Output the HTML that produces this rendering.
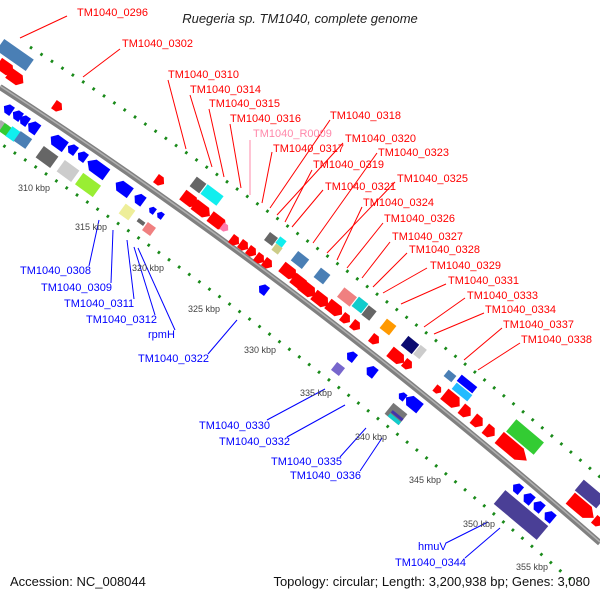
<!DOCTYPE html>
<html><head><meta charset="utf-8"><style>
html,body{margin:0;padding:0;background:#fff}
svg{display:block}
text{font-family:"Liberation Sans",sans-serif}
.r{fill:#f00;font-size:11px}
.b{fill:#00f;font-size:11px}
.k{fill:#444;font-size:9px}
</style></head><body>
<svg width="600" height="600" viewBox="0 0 600 600" xmlns="http://www.w3.org/2000/svg">
<defs>
<polygon id="ar" points="-9,-6 4,-6 9,0 4,6 -9,6"/>
<polygon id="as" points="-5,-5 1,-5 5,0 1,5 -5,5"/>
</defs>
<path d="M30,47 Q330,241 630,503" fill="none" stroke="#1a8a1a" stroke-width="3" stroke-dasharray="2.5 10"/>
<path d="M-28,125 Q272,319 572,581" fill="none" stroke="#1a8a1a" stroke-width="3" stroke-dasharray="2.5 10"/>
<path d="M0,87 Q300,281 600,543" fill="none" stroke="#808080" stroke-width="6"/>
<path d="M0,86 Q300,280 600,542" fill="none" stroke="#b0b0b0" stroke-width="1.5"/>

<g fill="#f00">
<use href="#ar" transform="translate(6,68) rotate(35)"/>
<use href="#ar" transform="translate(16,78) rotate(35)"/>
<use href="#as" transform="translate(58,107) rotate(35)"/>
<use href="#as" transform="translate(160,181) rotate(36)"/>
<use href="#ar" transform="translate(190,200) rotate(37)"/>
<use href="#ar" transform="translate(202,210) rotate(37) scale(1.1,1)"/>
<use href="#ar" transform="translate(218,222) rotate(37) scale(1.1,1)"/>
<use href="#as" transform="translate(235,241) rotate(37)"/>
<use href="#as" transform="translate(244,246) rotate(37)"/>
<use href="#as" transform="translate(252,252) rotate(37)"/>
<use href="#as" transform="translate(260,259) rotate(37)"/>
<use href="#as" transform="translate(268,264) rotate(37)"/>
<use href="#ar" transform="translate(289,272) rotate(38)"/>
<use href="#ar" transform="translate(300,283) rotate(38)"/>
<use href="#ar" transform="translate(308,290) rotate(38)"/>
<use href="#ar" transform="translate(321,300) rotate(38)"/>
<use href="#ar" transform="translate(335,309) rotate(38)"/>
<use href="#as" transform="translate(346,319) rotate(38)"/>
<use href="#as" transform="translate(356,326) rotate(38)"/>
<use href="#as" transform="translate(375,340) rotate(38)"/>
<use href="#ar" transform="translate(397,357) rotate(39)"/>
<use href="#as" transform="translate(408,365) rotate(39)"/>
<use href="#as" transform="translate(438,390) rotate(39) scale(0.8)"/>
<use href="#ar" transform="translate(452,400) rotate(39) scale(1.1,1.1)"/>
<use href="#as" transform="translate(466,412) rotate(39) scale(1.2)"/>
<use href="#as" transform="translate(478,422) rotate(39) scale(1.2)"/>
<use href="#as" transform="translate(490,432) rotate(39) scale(1.2)"/>
<use href="#ar" transform="translate(513,449) rotate(40) scale(2,1.2)"/>
<use href="#ar" transform="translate(582,508) rotate(40) scale(1.7,1.2)"/>
<use href="#as" transform="translate(598,522) rotate(40)"/>
</g>
<use href="#as" fill="#f7a" transform="translate(225,228) rotate(37) scale(0.8)"/>
<g transform="translate(15,55) rotate(35)"><rect x="-18" y="-7" width="36" height="14" fill="#4a7fb5"/></g>
<g transform="translate(198,185) rotate(37)"><rect x="-6" y="-6" width="12" height="12" fill="#666"/></g>
<g transform="translate(212,195) rotate(37)"><rect x="-10" y="-6" width="20" height="12" fill="#1ee"/></g>
<g transform="translate(271,239) rotate(37)"><rect x="-5" y="-5" width="10" height="10" fill="#666"/></g>
<g transform="translate(281,242) rotate(37)"><rect x="-4" y="-4" width="8" height="8" fill="#1ee"/></g>
<g transform="translate(277,249) rotate(37)"><rect x="-4" y="-4" width="8" height="8" fill="#cc8"/></g>
<g transform="translate(300,260) rotate(38)"><rect x="-7" y="-6" width="14" height="12" fill="#4a7fb5"/></g>
<g transform="translate(322,276) rotate(38)"><rect x="-6" y="-6" width="12" height="12" fill="#4a7fb5"/></g>
<g transform="translate(347,297) rotate(38)"><rect x="-8" y="-6" width="16" height="12" fill="#f08080"/></g>
<g transform="translate(360,305) rotate(38)"><rect x="-6" y="-6" width="12" height="12" fill="#1cc"/></g>
<g transform="translate(369,313) rotate(38)"><rect x="-5" y="-6" width="10" height="12" fill="#666"/></g>
<g transform="translate(388,327) rotate(38)"><rect x="-6" y="-6" width="12" height="12" fill="#f90"/></g>
<g transform="translate(410,345) rotate(39)"><rect x="-7" y="-6" width="14" height="12" fill="#0a0a70"/></g>
<g transform="translate(420,352) rotate(39)"><rect x="-4" y="-6" width="8" height="12" fill="#ccc"/></g>
<g transform="translate(450,376) rotate(39)"><rect x="-5" y="-4" width="10" height="8" fill="#4a7fb5"/></g>
<g transform="translate(467,384) rotate(39)"><rect x="-10" y="-4" width="20" height="8" fill="#00f"/></g>
<g transform="translate(462,392) rotate(39)"><rect x="-10" y="-4" width="20" height="8" fill="#2bf"/></g>
<g transform="translate(525,437) rotate(40)"><rect x="-18" y="-8" width="36" height="16" fill="#3c3"/></g>
<g transform="translate(590,494) rotate(40)"><rect x="-14" y="-7" width="28" height="14" fill="#4a3f96"/></g>

<g fill="#00f">
<use href="#as" transform="translate(8,109) rotate(215)"/>
<use href="#as" transform="translate(17,115) rotate(215)"/>
<use href="#as" transform="translate(24,120) rotate(215)"/>
<use href="#as" transform="translate(33,127) rotate(215) scale(1.2)"/>
<use href="#ar" transform="translate(58,142) rotate(216)"/>
<use href="#as" transform="translate(72,149) rotate(216)"/>
<use href="#as" transform="translate(82,156) rotate(216)"/>
<use href="#ar" transform="translate(97,168) rotate(216) scale(1.3,1.1)"/>
<use href="#ar" transform="translate(123,188) rotate(216)"/>
<use href="#as" transform="translate(139,199) rotate(216) scale(1.1)"/>
<use href="#as" transform="translate(152,210) rotate(216) scale(0.7)"/>
<use href="#as" transform="translate(160,215) rotate(216) scale(0.7)"/>
<use href="#as" transform="translate(263,289) rotate(217)"/>
<use href="#as" transform="translate(351,356) rotate(218)"/>
<use href="#as" transform="translate(371,371) rotate(218) scale(1.1)"/>
<use href="#as" transform="translate(402,396) rotate(219) scale(0.8)"/>
<use href="#ar" transform="translate(413,403) rotate(219)"/>
<use href="#as" transform="translate(517,488) rotate(220)"/>
<use href="#as" transform="translate(528,498) rotate(220) scale(1.1)"/>
<use href="#as" transform="translate(538,506) rotate(220) scale(1.1)"/>
<use href="#as" transform="translate(549,516) rotate(220) scale(1.1)"/>
</g>
<g transform="translate(2,127) rotate(35)"><rect x="-5" y="-5" width="10" height="10" fill="#aaa"/></g>
<g transform="translate(6,130) rotate(35)"><rect x="-5" y="-5" width="10" height="10" fill="#3c3"/></g>
<g transform="translate(13,134) rotate(35)"><rect x="-5" y="-6" width="10" height="12" fill="#1ee"/></g>
<g transform="translate(23,140) rotate(35)"><rect x="-7" y="-6" width="14" height="12" fill="#4a7fb5"/></g>
<g transform="translate(47,157) rotate(36)"><rect x="-9" y="-7" width="18" height="14" fill="#666"/></g>
<g transform="translate(68,171) rotate(36)"><rect x="-9" y="-7" width="18" height="14" fill="#ccc"/></g>
<g transform="translate(88,185) rotate(36)"><rect x="-11" y="-7" width="22" height="14" fill="#9e3"/></g>
<g transform="translate(127,212) rotate(36)"><rect x="-6" y="-6" width="12" height="12" fill="#ee9"/></g>
<g transform="translate(141,222) rotate(36)"><rect x="-4" y="-2" width="8" height="4" fill="#666"/></g>
<g transform="translate(149,229) rotate(36)"><rect x="-5" y="-5" width="10" height="10" fill="#f08080"/></g>
<g transform="translate(338,369) rotate(38)"><rect x="-5" y="-5" width="10" height="10" fill="#76c"/></g>
<g transform="translate(396,414) rotate(39)"><rect x="-9" y="-7" width="18" height="14" fill="#777"/><rect x="-5" y="-1" width="14" height="3" fill="#43a"/><rect x="-5" y="3" width="14" height="4" fill="#1cc"/></g>
<g transform="translate(521,515) rotate(40)"><rect x="-28" y="-9" width="56" height="18" fill="#4a3f96"/></g>

<g stroke="#f00" stroke-width="1">
<line x1="67" y1="16" x2="20" y2="38"/>
<line x1="120" y1="49" x2="83" y2="77"/>
<line x1="168" y1="80" x2="186" y2="149"/>
<line x1="190" y1="95" x2="212" y2="167"/>
<line x1="209" y1="109" x2="224" y2="177"/>
<line x1="230" y1="124" x2="241" y2="188"/>
<line x1="272" y1="152" x2="262" y2="203"/>
<line x1="330" y1="120" x2="270" y2="208"/>
<line x1="343" y1="143" x2="277" y2="215"/>
<line x1="312" y1="170" x2="285" y2="222"/>
<line x1="323" y1="190" x2="292" y2="227"/>
<line x1="377" y1="153" x2="313" y2="243"/>
<line x1="395" y1="182" x2="327" y2="253"/>
<line x1="362" y1="207" x2="337" y2="260"/>
<line x1="383" y1="223" x2="347" y2="268"/>
<line x1="390" y1="242" x2="362" y2="278"/>
<line x1="407" y1="253" x2="373" y2="287"/>
<line x1="427" y1="268" x2="383" y2="293"/>
<line x1="446" y1="284" x2="401" y2="304"/>
<line x1="465" y1="298" x2="424" y2="327"/>
<line x1="484" y1="313" x2="434" y2="334"/>
<line x1="502" y1="328" x2="464" y2="360"/>
<line x1="520" y1="343" x2="478" y2="370"/>
</g>
<line x1="250" y1="140" x2="250" y2="195" stroke="#f8a" stroke-width="1"/>
<g stroke="#00f" stroke-width="1">
<line x1="89" y1="266" x2="99" y2="220"/>
<line x1="111" y1="283" x2="113" y2="230"/>
<line x1="134" y1="299" x2="127" y2="240"/>
<line x1="155" y1="315" x2="134" y2="247"/>
<line x1="175" y1="330" x2="138" y2="248"/>
<line x1="208" y1="354" x2="237" y2="320"/>
<line x1="267" y1="420" x2="325" y2="389"/>
<line x1="287" y1="437" x2="345" y2="405"/>
<line x1="340" y1="457" x2="366" y2="428"/>
<line x1="360" y1="471" x2="382" y2="438"/>
<line x1="446" y1="543" x2="488" y2="522"/>
<line x1="465" y1="558" x2="500" y2="528"/>
</g>

<text x="300" y="23" text-anchor="middle" font-size="13" font-style="italic" fill="#222">Ruegeria sp. TM1040, complete genome</text>
<text class="r" x="77" y="16">TM1040_0296</text>
<text class="r" x="122" y="47">TM1040_0302</text>
<text class="r" x="168" y="78">TM1040_0310</text>
<text class="r" x="190" y="93">TM1040_0314</text>
<text class="r" x="209" y="107">TM1040_0315</text>
<text class="r" x="230" y="122">TM1040_0316</text>
<text x="253" y="137" font-size="11" fill="#f8a">TM1040_R0009</text>
<text class="r" x="273" y="152">TM1040_0317</text>
<text class="r" x="330" y="119">TM1040_0318</text>
<text class="r" x="345" y="142">TM1040_0320</text>
<text class="r" x="313" y="168">TM1040_0319</text>
<text class="r" x="378" y="156">TM1040_0323</text>
<text class="r" x="325" y="190">TM1040_0321</text>
<text class="r" x="397" y="182">TM1040_0325</text>
<text class="r" x="363" y="206">TM1040_0324</text>
<text class="r" x="384" y="222">TM1040_0326</text>
<text class="r" x="392" y="240">TM1040_0327</text>
<text class="r" x="409" y="253">TM1040_0328</text>
<text class="r" x="430" y="269">TM1040_0329</text>
<text class="r" x="448" y="284">TM1040_0331</text>
<text class="r" x="467" y="299">TM1040_0333</text>
<text class="r" x="485" y="313">TM1040_0334</text>
<text class="r" x="503" y="328">TM1040_0337</text>
<text class="r" x="521" y="343">TM1040_0338</text>

<text class="b" x="20" y="274">TM1040_0308</text>
<text class="b" x="41" y="291">TM1040_0309</text>
<text class="b" x="64" y="307">TM1040_0311</text>
<text class="b" x="86" y="323">TM1040_0312</text>
<text class="b" x="148" y="338">rpmH</text>
<text class="b" x="138" y="362">TM1040_0322</text>
<text class="b" x="199" y="429">TM1040_0330</text>
<text class="b" x="219" y="445">TM1040_0332</text>
<text class="b" x="271" y="465">TM1040_0335</text>
<text class="b" x="290" y="479">TM1040_0336</text>
<text class="b" x="418" y="550">hmuV</text>
<text class="b" x="395" y="566">TM1040_0344</text>

<text class="k" x="18" y="191">310 kbp</text>
<text class="k" x="75" y="230">315 kbp</text>
<text class="k" x="132" y="271">320 kbp</text>
<text class="k" x="188" y="312">325 kbp</text>
<text class="k" x="244" y="353">330 kbp</text>
<text class="k" x="300" y="396">335 kbp</text>
<text class="k" x="355" y="440">340 kbp</text>
<text class="k" x="409" y="483">345 kbp</text>
<text class="k" x="463" y="527">350 kbp</text>
<text class="k" x="516" y="570">355 kbp</text>

<text x="10" y="586" font-size="13" fill="#111">Accession: NC_008044</text>
<text x="590" y="586" font-size="13" fill="#111" text-anchor="end">Topology: circular; Length: 3,200,938 bp; Genes: 3,080</text>
</svg>
</body></html>
